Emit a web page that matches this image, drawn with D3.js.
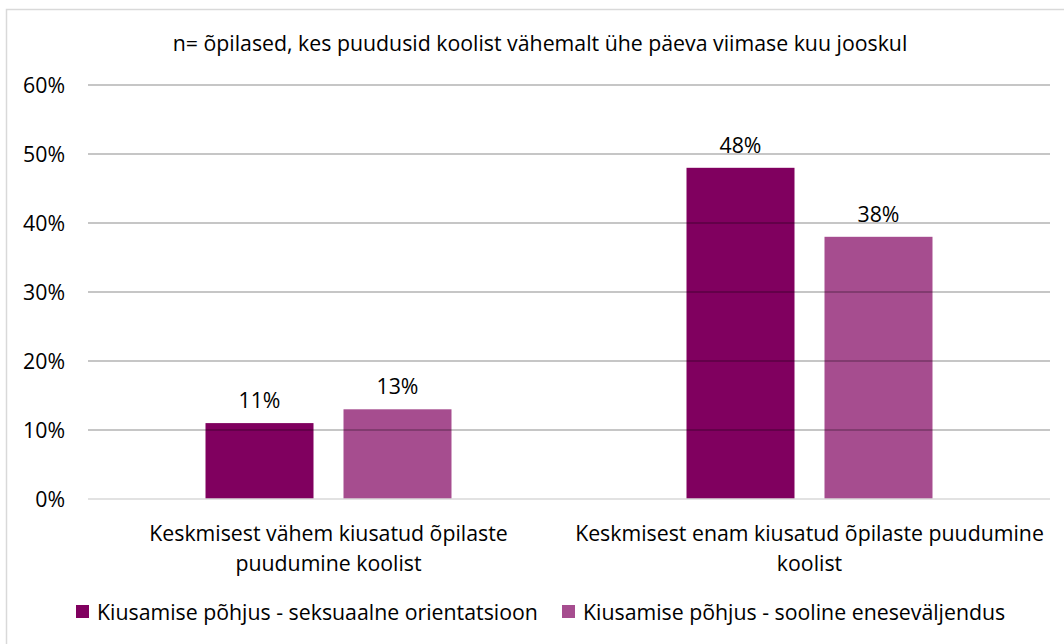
<!DOCTYPE html>
<html><head><meta charset="utf-8">
<script src="https://cdn.jsdelivr.net/npm/d3@7"></script>
<style>body{margin:0;background:#fff}svg{display:block}text{font-family:"Open Sans",sans-serif;fill:#000}</style>
</head><body><svg id="c" width="1064" height="644"></svg>
<script>
const title = "n= õpilased, kes puudusid koolist vähemalt ühe päeva viimase kuu jooskul";
const categories = [["Keskmisest vähem kiusatud õpilaste","puudumine koolist"],["Keskmisest enam kiusatud õpilaste puudumine","koolist"]];
const seriesNames = ["Kiusamise põhjus - seksuaalne orientatsioon","Kiusamise põhjus - sooline eneseväljendus"];
const seksuaalne = [11, 48];
const sooline = [13, 38];
const yTicks = [0,10,20,30,40,50,60];
const colors = ["#80005f","#a64d8f"];

const svg = d3.select("#c");
const fs = 21.3;
svg.append("rect").attr("x",6.5).attr("y",9.5).attr("width",1100).attr("height",700).attr("fill","#fff").attr("stroke","#d9d9d9").attr("stroke-width",1.5);

const x0 = d3.scaleBand().domain([0,1]).range([88,1050]);
const x1 = d3.scaleBand().domain([0,1]).range([0,x0.bandwidth()]).paddingInner(0.2174).paddingOuter(0.8515);
const y = d3.scaleLinear().domain([0,60]).range([499,85]);

svg.append("text").attr("x",540).attr("y",51).attr("text-anchor","middle").attr("font-size",fs).text(title);

const data = [seksuaalne, sooline];
categories.forEach((c,ci)=>{
  data.forEach((s,si)=>{
    const bx = x0(ci)+x1(si);
    svg.append("rect").attr("x",bx).attr("y",y(s[ci])).attr("width",x1.bandwidth()).attr("height",y(0)-y(s[ci])).attr("fill",colors[si]);
    svg.append("text").attr("x",bx+x1.bandwidth()/2).attr("y",y(s[ci])-15).attr("text-anchor","middle").attr("font-size",fs).text(s[ci]+"%");
  });
  c.forEach((line,li)=>{
    svg.append("text").attr("x",x0(ci)+x0.bandwidth()/2).attr("y",541+li*30).attr("text-anchor","middle").attr("font-size",fs).text(line);
  });
});

yTicks.forEach(t=>{
  svg.append("line").attr("x1",88).attr("x2",1050).attr("y1",y(t)).attr("y2",y(t))
    .attr("stroke", t===0?"#d9d9d9":"#000").attr("stroke-opacity", t===0?1:0.3).attr("stroke-width",1.5);
  svg.append("text").attr("x",65).attr("y",y(t)+7.5).attr("text-anchor","end").attr("font-size",fs).text(t+"%");
});

const lx = [76, 562];
seriesNames.forEach((n,i)=>{
  svg.append("rect").attr("x",lx[i]).attr("y",605).attr("width",13).attr("height",13).attr("fill",colors[i]);
  svg.append("text").attr("x",lx[i]+21).attr("y",619.5).attr("font-size",fs).text(n);
});
</script></body></html>
